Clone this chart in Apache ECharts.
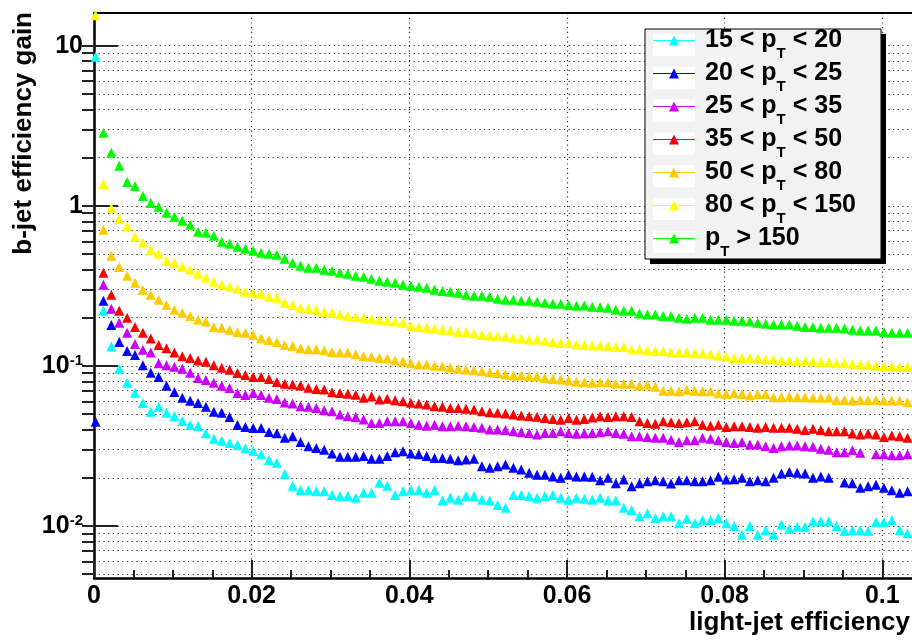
<!DOCTYPE html>
<html>
<head>
<meta charset="utf-8">
<script src="https://cdn.jsdelivr.net/npm/echarts@6.0.0/dist/echarts.min.js"></script>
<style>
  html, body { margin: 0; padding: 0; background: #fff; }
  #chart { width: 912px; height: 641px; }
</style>
</head>
<body>
<div id="chart"></div>
<script>
// light-jet efficiency of each point (first one is the point sitting on x = 0)
const lightEff = [0.0002,
  0.0012, 0.0022, 0.0032, 0.0042, 0.0052, 0.0062, 0.0072, 0.0082, 0.0092, 0.0102,
  0.0112, 0.0122, 0.0132, 0.0142, 0.0152, 0.0162, 0.0172, 0.0182, 0.0192, 0.0202,
  0.0212, 0.0222, 0.0232, 0.0242, 0.0252, 0.0262, 0.0272, 0.0282, 0.0292, 0.0302,
  0.0312, 0.0322, 0.0332, 0.0342, 0.0352, 0.0362, 0.0372, 0.0382, 0.0392, 0.0402,
  0.0412, 0.0422, 0.0432, 0.0442, 0.0452, 0.0462, 0.0472, 0.0482, 0.0492, 0.0502,
  0.0512, 0.0522, 0.0532, 0.0542, 0.0552, 0.0562, 0.0572, 0.0582, 0.0592, 0.0602,
  0.0612, 0.0622, 0.0632, 0.0642, 0.0652, 0.0662, 0.0672, 0.0682, 0.0692, 0.0702,
  0.0712, 0.0722, 0.0732, 0.0742, 0.0752, 0.0762, 0.0772, 0.0782, 0.0792, 0.0802,
  0.0812, 0.0822, 0.0832, 0.0842, 0.0852, 0.0862, 0.0872, 0.0882, 0.0892, 0.0902,
  0.0912, 0.0922, 0.0932, 0.0942, 0.0952, 0.0962, 0.0972, 0.0982, 0.0992, 0.1002,
  0.1012, 0.1022, 0.1032];

// b-jet efficiency gain, one array per pT bin (null = no point drawn)
const gain15to20 = [8.54,
  0.221, 0.132, 0.0959, 0.0784, 0.068, 0.0587, 0.0516, 0.0555, 0.0509, 0.0487,
  0.0453, 0.0427, 0.0421, 0.0380, 0.0351, 0.0340, 0.0330, 0.0321, 0.0306, 0.0294,
  0.0280, 0.0258, 0.0248, 0.0211, 0.0178, 0.0168, 0.0168, 0.0165, 0.0165, 0.0156,
  0.0154, 0.0154, 0.0150, 0.0161, 0.0161, 0.0186, 0.0178, 0.0156, 0.0165, 0.0168,
  0.0168, 0.0161, 0.0168, 0.0144, 0.0150, 0.0146, 0.0154, 0.0154, 0.0146, 0.0144,
  0.0135, 0.0130, 0.0156, 0.0156, 0.0154, 0.0150, 0.0154, 0.0156, 0.0150, 0.0146,
  0.0150, 0.0148, 0.0146, 0.0150, 0.0144, 0.0144, 0.0130, 0.0126, 0.0115, 0.0120,
  0.0112, 0.0115, 0.0115, 0.0104, 0.0111, 0.0104, 0.0109, 0.0109, 0.0112, 0.0104,
  0.0100, 0.0088, 0.0100, 0.0088, 0.0094, 0.0088, 0.0102, 0.0096, 0.0099, 0.0099,
  0.0107, 0.0107, 0.0107, 0.0100, 0.0093, 0.0094, 0.0094, 0.0093, 0.0106, 0.0106,
  0.0109, 0.0094, 0.0090];
const gain20to25 = [0.0447,
  0.255, 0.180, 0.141, 0.124, 0.117, 0.101, 0.0905, 0.0851, 0.0750, 0.0687,
  0.0631, 0.0605, 0.0587, 0.0555, 0.0516, 0.0509, 0.0479, 0.0427, 0.0415, 0.0409,
  0.0409, 0.0386, 0.0380, 0.0355, 0.0363, 0.0334, 0.0315, 0.0307, 0.0299, 0.0284,
  0.0271, 0.0271, 0.0271, 0.0273, 0.0263, 0.0263, 0.0273, 0.0289, 0.0293, 0.0284,
  0.0280, 0.0273, 0.0266, 0.0266, 0.0263, 0.0257, 0.0260, 0.0263, 0.0236, 0.0231,
  0.0236, 0.0242, 0.0231, 0.0225, 0.0215, 0.0209, 0.0209, 0.0204, 0.0200, 0.0209,
  0.0204, 0.0204, 0.0203, 0.0193, 0.0200, 0.0185, 0.0195, 0.0177, 0.0185, 0.0190,
  0.0193, 0.0190, 0.0184, 0.0193, 0.0193, 0.0190, 0.0190, 0.0193, 0.0203, 0.0195,
  0.0196, 0.0200, 0.0190, 0.0193, 0.0190, 0.0200, 0.0213, 0.0217, 0.0215, 0.0213,
  0.0200, 0.0204, 0.0200, null, 0.0187, 0.0185, 0.0173, 0.0177, 0.0181, 0.0173,
  0.0167, 0.0161, 0.0165];
const gain25to35 = [null,
  0.321, 0.227, 0.186, 0.161, 0.137, 0.126, 0.121, 0.104, 0.101, 0.0987,
  0.0959, 0.0905, 0.0841, 0.0817, 0.0784, 0.0750, 0.0728, 0.0677, 0.0658, 0.0677,
  0.0658, 0.0631, 0.0621, 0.0590, 0.0581, 0.0560, 0.0555, 0.0546, 0.0529, 0.0521,
  0.0496, 0.0485, 0.0480, 0.0462, 0.0440, 0.0440, 0.0451, 0.0451, 0.0451, 0.0440,
  0.0429, 0.0423, 0.0429, 0.0419, 0.0419, 0.0423, 0.0419, 0.0415, 0.0410, 0.0400,
  0.0400, 0.0397, 0.0391, 0.0385, 0.0381, 0.0372, 0.0381, 0.0381, 0.0391, 0.0381,
  0.0377, 0.0380, 0.0381, 0.0385, 0.0391, 0.0381, 0.0377, 0.0363, 0.0363, 0.0360,
  0.0355, 0.0355, 0.0346, 0.0334, 0.0343, 0.0343, 0.0355, 0.0350, 0.0343, 0.0334,
  0.0330, 0.0334, 0.0323, 0.0323, 0.0315, 0.0307, 0.0315, 0.0318, 0.0318, 0.0315,
  0.0312, 0.0303, 0.0299, 0.0289, 0.0289, 0.0297, 0.0287, null, 0.0280, 0.0280,
  0.0276, 0.0276, 0.0280];
const gain35to50 = [null,
  0.381, 0.278, 0.221, 0.200, 0.175, 0.161, 0.148, 0.135, 0.129, 0.121,
  0.115, 0.112, 0.108, 0.106, 0.101, 0.0972, 0.0944, 0.0903, 0.0877, 0.0851,
  0.0851, 0.0827, 0.0794, 0.0772, 0.0764, 0.0753, 0.0729, 0.0718, 0.0711, 0.0685,
  0.0677, 0.0670, 0.0660, 0.0631, 0.0646, 0.0616, 0.0622, 0.0610, 0.0601, 0.0588,
  0.0581, 0.0573, 0.0560, 0.0555, 0.0546, 0.0546, 0.0539, 0.0533, 0.0521, 0.0514,
  0.0509, 0.0504, 0.0497, 0.0490, 0.0485, 0.0481, 0.0473, 0.0466, 0.0461, 0.0473,
  0.0461, 0.0465, 0.0475, 0.0485, 0.0480, 0.0485, 0.0485, 0.0480, 0.0451, 0.0440,
  0.0435, 0.0451, 0.0444, 0.0440, 0.0444, 0.0451, 0.0429, 0.0423, 0.0429, 0.0415,
  0.0419, 0.0419, 0.0415, 0.0410, 0.0415, 0.0410, 0.0410, 0.0410, 0.0404, 0.0397,
  0.0404, 0.0397, 0.0391, 0.0391, 0.0391, 0.0378, 0.0372, 0.0378, 0.0372, 0.0360,
  0.0367, 0.0363, 0.0355];
const gain50to80 = [null,
  0.708, 0.487, 0.415, 0.365, 0.330, 0.298, 0.278, 0.259, 0.240, 0.224,
  0.214, 0.205, 0.194, 0.189, 0.175, 0.173, 0.168, 0.163, 0.161, 0.156,
  0.149, 0.145, 0.141, 0.135, 0.133, 0.129, 0.127, 0.127, 0.125, 0.122,
  0.121, 0.121, 0.118, 0.115, 0.114, 0.112, 0.111, 0.108, 0.107, 0.104,
  0.102, 0.102, 0.100, 0.0996, 0.0972, 0.0958, 0.0948, 0.0939, 0.0925, 0.0912,
  0.0904, 0.0883, 0.0870, 0.0870, 0.0862, 0.0862, 0.0841, 0.0829, 0.0822, 0.0814,
  0.0795, 0.0790, 0.0785, 0.0791, 0.0791, 0.0772, 0.0772, 0.0772, 0.0753, 0.0762,
  0.0741, 0.0700, 0.0700, 0.0694, 0.0708, 0.0700, 0.0694, 0.0694, 0.0675, 0.0668,
  0.0675, 0.0668, 0.0652, 0.0668, 0.0668, 0.0637, 0.0637, 0.0643, 0.0637, 0.0637,
  0.0631, 0.0631, 0.0631, 0.0613, 0.0613, 0.0607, 0.0613, 0.0613, 0.0613, 0.0607,
  0.0607, 0.0607, 0.0593];
const gain80to150 = [15.5,
  1.37, 0.97, 0.83, 0.739, 0.64, 0.587, 0.531, 0.501, 0.453, 0.44,
  0.415, 0.398, 0.376, 0.355, 0.335, 0.321, 0.312, 0.303, 0.29, 0.286,
  0.282, 0.27, 0.266, 0.248, 0.240, 0.231, 0.227, 0.224, 0.218, 0.215,
  0.209, 0.205, 0.202, 0.1995, 0.197, 0.194, 0.191, 0.189, 0.186, 0.178,
  0.175, 0.173, 0.171, 0.168, 0.166, 0.163, 0.163, 0.159, 0.156, 0.154,
  0.154, 0.152, 0.150, 0.148, 0.146, 0.146, 0.143, 0.141, 0.139, 0.139,
  0.136, 0.135, 0.134, 0.134, 0.133, 0.131, 0.131, 0.127, 0.127, 0.125,
  0.124, 0.124, 0.121, 0.121, 0.121, 0.120, 0.120, 0.118, 0.116, 0.114,
  0.112, 0.112, 0.112, 0.111, 0.110, 0.110, 0.108, 0.108, 0.107, 0.107,
  0.107, 0.106, 0.106, 0.104, 0.104, 0.103, 0.102, 0.102, 0.100, 0.0996,
  0.0996, 0.0986, 0.0986];
const gainOver150 = [null,
  2.86, 2.14, 1.78, 1.41, 1.33, 1.15, 1.04, 0.986, 0.904, 0.854,
  0.806, 0.761, 0.688, 0.678, 0.649, 0.596, 0.579, 0.554, 0.538, 0.523,
  0.508, 0.501, 0.494, 0.466, 0.440, 0.422, 0.410, 0.410, 0.398, 0.393,
  0.381, 0.376, 0.365, 0.360, 0.350, 0.340, 0.335, 0.330, 0.321, 0.316,
  0.312, 0.308, 0.299, 0.294, 0.290, 0.286, 0.278, 0.274, 0.274, 0.270,
  0.263, 0.259, 0.259, 0.255, 0.255, 0.251, 0.248, 0.244, 0.244, 0.240,
  0.237, 0.238, 0.234, 0.232, 0.231, 0.224, 0.221, 0.221, 0.212, 0.209,
  0.209, 0.205, 0.205, 0.1995, 0.197, 0.1995, 0.1995, 0.194, 0.194, 0.194,
  0.191, 0.191, 0.189, 0.186, 0.183, 0.181, 0.181, 0.181, 0.178, 0.175,
  0.175, 0.173, 0.173, 0.173, 0.171, 0.168, 0.166, 0.166, 0.166, 0.163,
  0.161, 0.161, 0.161];

// legend names
const binNames = ['15 < pT < 20', '20 < pT < 25', '25 < pT < 35', '35 < pT < 50',
  '50 < pT < 80', '80 < pT < 150', 'pT > 150'];

// axis ticks
const yMajor = [0.01, 0.1, 1, 10];
const yGrid = [0.005, 0.006, 0.007, 0.008, 0.009, 0.01,
  0.02, 0.03, 0.04, 0.05, 0.06, 0.07, 0.08, 0.09, 0.1,
  0.2, 0.3, 0.4, 0.5, 0.6, 0.7, 0.8, 0.9, 1,
  2, 3, 4, 5, 6, 7, 8, 9, 10];

const FONT = '"Liberation Sans", Arial, Helvetica, sans-serif';
const binColors = ['#00ffff', '#0000ff', '#cc00ff', '#ff0000', '#ffcc00', '#ffff00', '#00ff00'];
const binValues = [gain15to20, gain20to25, gain25to35, gain35to50, gain50to80, gain80to150, gainOver150];

// legend label with subscript T
const legendLabel = {
  '15 < pT < 20': '{a|15 < p}{s|T}{b| < 20}',
  '20 < pT < 25': '{a|20 < p}{s|T}{b| < 25}',
  '25 < pT < 35': '{a|25 < p}{s|T}{b| < 35}',
  '35 < pT < 50': '{a|35 < p}{s|T}{b| < 50}',
  '50 < pT < 80': '{a|50 < p}{s|T}{b| < 80}',
  '80 < pT < 150': '{a|80 < p}{s|T}{b| < 150}',
  'pT > 150': '{a|p}{s|T}{b| > 150}'
};

const Y_MIN = 0.00473;
const Y_MAX = 16;
const dotted = { type: [1.2, 3.5], color: '#333', width: 1.2 };

const chart = echarts.init(document.getElementById('chart'));

const series = binNames.map((name, i) => ({
  name: name,
  type: 'scatter',
  symbol: 'triangle',
  symbolSize: [10, 10],
  itemStyle: { color: binColors[i], opacity: 1 },
  data: lightEff.map((x, j) => [x, binValues[i][j]]).filter(p => p[1] != null),
  z: 3
}));

// white boxes behind the legend symbols
const legendBoxes = binNames.map((n, i) => ({
  type: 'rect', z: 1, z2: 3,
  shape: { x: 653, y: 34 + 32.8 * i, width: 42, height: 22 },
  style: { fill: '#fff' }
}));

chart.setOption({
  animation: false,
  backgroundColor: '#fff',
  // the x range runs past the right edge of the canvas, as in the original plot
  grid: { left: 94, top: 13, bottom: 63, width: 946, outerBoundsMode: 'none' },
  xAxis: [
    {
      type: 'value',
      min: 0,
      max: 0.12,
      interval: 0.02,
      axisLine: { onZero: false, lineStyle: { color: '#000', width: 2.5 } },
      axisTick: { inside: true, length: 18, lineStyle: { color: '#222', width: 2 } },
      minorTick: { show: true, splitNumber: 4, length: 8, lineStyle: { color: '#222', width: 2 } },
      axisLabel: { margin: 6, fontSize: 25, fontWeight: 'bold', color: '#000', fontFamily: FONT },
      splitLine: { show: true, lineStyle: dotted }
    },
    {
      // top frame
      type: 'value',
      position: 'top',
      min: 0,
      max: 0.12,
      axisLine: { show: true, lineStyle: { color: '#000', width: 2 } },
      axisTick: { show: false },
      axisLabel: { show: false },
      splitLine: { show: false }
    }
  ],
  yAxis: [
    {
      type: 'log',
      min: Y_MIN,
      max: Y_MAX,
      axisLine: { show: true, onZero: false, lineStyle: { color: '#000', width: 2.5 } },
      axisTick: { show: true, inside: true, length: 24, customValues: yMajor, lineStyle: { color: '#222', width: 2 } },
      axisLabel: {
        customValues: yMajor,
        margin: 11,
        color: '#000',
        formatter: function (v) {
          if (v === 1) return '{n|1}';
          if (v === 10) return '{n|10}';
          return '{n|10}{e|' + Math.round(Math.log10(v)) + '}';
        },
        rich: {
          n: { fontSize: 25, fontWeight: 'bold', fontFamily: FONT, color: '#000', lineHeight: 25 },
          e: { fontSize: 15, fontWeight: 'bold', fontFamily: FONT, color: '#000', lineHeight: 15, verticalAlign: 'top' }
        }
      },
      splitLine: { show: false },
      minorTick: { show: false }
    },
    {
      // minor ticks + dotted grid
      type: 'log',
      min: Y_MIN,
      max: Y_MAX,
      axisLine: { show: false },
      axisTick: { show: true, inside: true, length: 12, customValues: yGrid, lineStyle: { color: '#222', width: 2 } },
      axisLabel: { show: false },
      splitLine: { show: true, lineStyle: dotted }
    }
  ],
  legend: {
    orient: 'vertical',
    left: 653,
    top: 28,
    padding: 0,
    itemGap: 0,
    itemWidth: 42,
    itemHeight: 10,
    icon: 'path://M0,4.4L42,4.4L42,5.6L0,5.6Z M21,0L26,10L16,10Z',
    symbolKeepAspect: false,
    data: binNames,
    formatter: name => legendLabel[name],
    textStyle: {
      color: '#000',
      rich: {
        a: { fontSize: 25, fontWeight: 'bold', fontFamily: FONT, lineHeight: 25, verticalAlign: 'top', padding: [0, 0, 0, 5] },
        b: { fontSize: 25, fontWeight: 'bold', fontFamily: FONT, lineHeight: 25, verticalAlign: 'top' },
        s: { fontSize: 15, fontWeight: 'bold', fontFamily: FONT, lineHeight: 15, verticalAlign: 'top', padding: [18, 0, 0, 0] }
      }
    }
  },
  graphic: [
    { type: 'rect', z: 1, z2: 1, shape: { x: 650, y: 34, width: 236, height: 230 }, style: { fill: '#000' } },
    { type: 'rect', z: 1, z2: 2, shape: { x: 645, y: 29, width: 236, height: 230 }, style: { fill: '#f2f2f2', stroke: '#000', lineWidth: 1 } },
    ...legendBoxes,
    {
      type: 'text', z: 5, x: 24, y: 12, rotation: Math.PI / 2,
      style: { text: 'b-jet efficiency gain', font: 'bold 26px ' + FONT, fill: '#000',
        textAlign: 'right', align: 'right', textVerticalAlign: 'middle', verticalAlign: 'middle' }
    },
    {
      type: 'text', z: 5, x: 910, y: 623,
      style: { text: 'light-jet efficiency', font: 'bold 26px ' + FONT, fill: '#000',
        textAlign: 'right', align: 'right', textVerticalAlign: 'middle', verticalAlign: 'middle' }
    }
  ],
  series: series
});
</script>
</body>
</html>
